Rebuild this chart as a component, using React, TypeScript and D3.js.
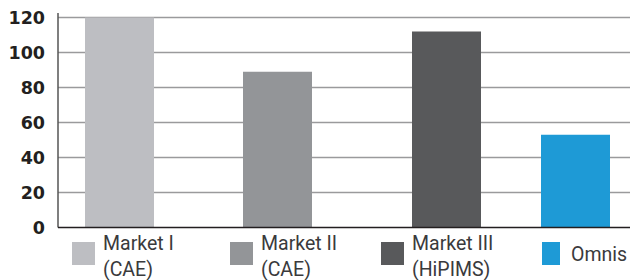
import React, { useEffect, useRef } from 'react';
import * as d3 from 'd3';

const categories = ['Market I', 'Market II', 'Market III', 'Omnis'];
const labelLines = [['Market I', '(CAE)'], ['Market II', '(CAE)'], ['Market III', '(HiPIMS)'], ['Omnis']];
const values = [120, 89, 112, 53];
const colors = ['#bdbec2', '#939598', '#58595b', '#1e9ad6'];
const yTicks = [0, 20, 40, 60, 80, 100, 120];

const W = 630;
const H = 280;

export default function App() {
  const svgRef = useRef<SVGSVGElement>(null);

  useEffect(() => {
    if (!svgRef.current) return;
    const svg = d3.select(svgRef.current);
    svg.selectAll('*').remove();

    const left = 58;
    const right = 630;
    const y = d3.scaleLinear().domain([0, 120]).range([227.5, 17.5]);
    // bars are not evenly spaced in the original
    const x = d3.scaleOrdinal<string, number>().domain(categories).range([85, 243, 412, 541]);
    const barW = 69;
    const legendX = d3.scaleOrdinal<string, number>().domain(categories).range([72, 230, 381, 542]);

    // gridlines
    svg.append('g')
      .selectAll('line')
      .data(yTicks.filter(t => t > 0))
      .enter()
      .append('line')
      .attr('x1', left)
      .attr('x2', right)
      .attr('y1', d => y(d))
      .attr('y2', d => y(d))
      .attr('stroke', '#9a9a9c')
      .attr('stroke-width', 1.5);

    // tick labels
    svg.append('g')
      .selectAll('text')
      .data(yTicks)
      .enter()
      .append('text')
      .attr('x', 45)
      .attr('y', d => y(d) + 6.5)
      .attr('text-anchor', 'end')
      .attr('font-family', 'DejaVu Sans')
      .attr('font-weight', 'bold')
      .attr('font-size', 17.5)
      .attr('fill', '#231f20')
      .text(d => d);

    // bars
    svg.append('g')
      .selectAll('rect')
      .data(values)
      .enter()
      .append('rect')
      .attr('x', (d, i) => x(categories[i]))
      .attr('y', d => y(d))
      .attr('width', barW)
      .attr('height', d => y(0) - y(d))
      .attr('fill', (d, i) => colors[i]);

    // axes lines
    svg.append('line')
      .attr('x1', left).attr('x2', left)
      .attr('y1', 13).attr('y2', y(0))
      .attr('stroke', '#555').attr('stroke-width', 1.5);
    svg.append('line')
      .attr('x1', left).attr('x2', right)
      .attr('y1', y(0)).attr('y2', y(0))
      .attr('stroke', '#231f20').attr('stroke-width', 1.5);

    // legend
    const legend = svg.append('g');
    categories.forEach((c, i) => {
      const lx = legendX(c);
      const swW = c === 'Omnis' ? 18 : 23;
      legend.append('rect')
        .attr('x', lx)
        .attr('y', 242)
        .attr('width', swW)
        .attr('height', 23)
        .attr('fill', colors[i]);
      const lines = labelLines[i];
      const t = legend.append('text')
        .attr('x', lx + (c === 'Omnis' ? 29 : 31))
        .attr('font-family', 'Roboto')
        .attr('font-size', 19.5)
        .attr('fill', '#3a3a3c');
      if (lines.length === 1) {
        t.attr('y', 261).text(lines[0]);
      } else {
        lines.forEach((l, j) => {
          t.append('tspan')
            .attr('x', lx + 31)
            .attr('y', 250 + j * 26)
            .text(l);
        });
      }
    });
  }, []);

  return (
    <svg
      ref={svgRef}
      width={W}
      height={H}
      style={{ position: 'absolute', left: 0, top: 0, background: '#fff' }}
    />
  );
}
